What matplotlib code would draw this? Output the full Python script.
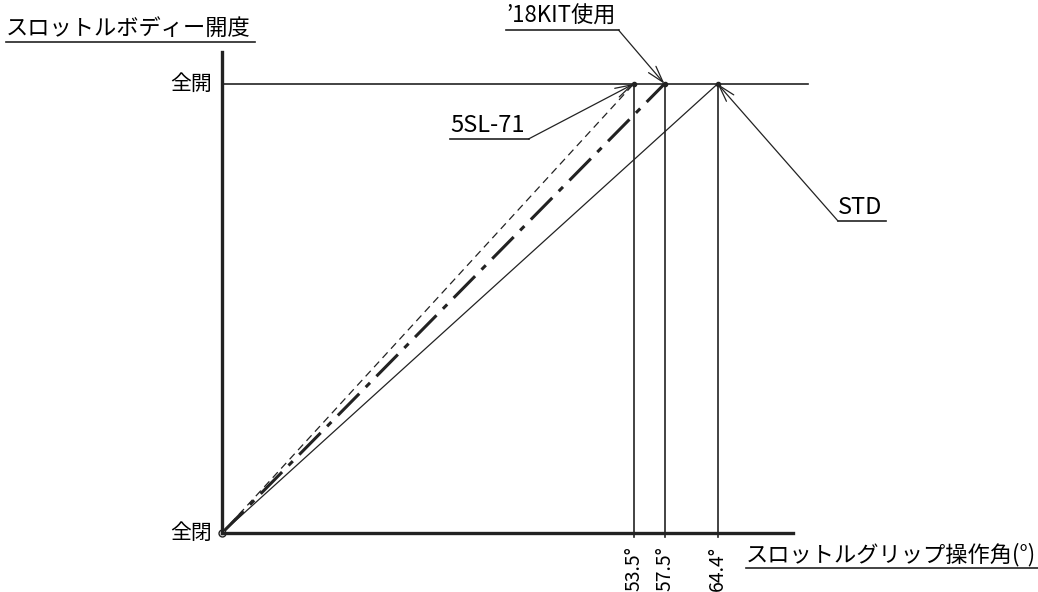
import matplotlib.pyplot as plt
from matplotlib.lines import Line2D

plt.rcParams['font.family'] = ['Noto Sans CJK JP', 'DejaVu Sans']

# データ
series_names = ['5SL-71', '’18KIT使用', 'STD']
full_open_angle = [53.5, 57.5, 64.4]
series_styles = [(0, (6, 4)), (0, (10, 3, 2, 3)), '-']
series_widths = [0.9, 2.2, 0.9]
y_labels = ['全閉', '全開']
x_tick_labels = ['53.5°', '57.5°', '64.4°']

fig = plt.figure(figsize=(10.38, 5.92), dpi=100)
ax = fig.add_axes([0.2139, 0.0997, 0.5501, 0.8125])
ax.set_xlim(0, 74.2)
ax.set_ylim(0, 1.071)

for s in ['top', 'right']:
    ax.spines[s].set_visible(False)
for s in ['left', 'bottom']:
    ax.spines[s].set_linewidth(2.4)
    ax.spines[s].set_color('#222222')

ax.set_xticks([])
ax.set_yticks([])

# 全開ライン
ax.plot([0, 76.1], [1, 1], color='#222222', lw=1.2, clip_on=False)

# 各特性線
for x, ls, lw in zip(full_open_angle, series_styles, series_widths):
    ax.plot([0, x], [0, 1], color='#222222', lw=lw, linestyle=ls, clip_on=False)
    ax.plot([x, x], [-0.01, 1], color='#222222', lw=1.2, clip_on=False)
    ax.plot([x], [1], marker='o', ms=3, color='#222222', clip_on=False)

ax.plot([0], [0], marker='o', ms=5, mfc='white', mec='#222222', mew=1, clip_on=False)

# 軸ラベル (目盛)
ax.text(-1.3, 0, y_labels[0], ha='right', va='center', fontsize=15)
ax.text(-1.3, 1, y_labels[1], ha='right', va='center', fontsize=15)
for x, lab in zip(full_open_angle, x_tick_labels):
    ax.text(x, -0.03, lab, rotation=90, ha='center', va='top', fontsize=14)

fig.canvas.draw()
renderer = fig.canvas.get_renderer()


def underlined(x, y, s, size, ext=4):
    t = fig.text(x / 1038, 1 - y / 592, s, fontsize=size, ha='left', va='bottom')
    bb = t.get_window_extent(renderer)
    yb = bb.y0 - 2
    fig.add_artist(Line2D([bb.x0 / 1038, (bb.x1 + ext) / 1038], [yb / 592, yb / 592],
                          transform=fig.transFigure, color='#222222', lw=1.2))
    return bb.x0, bb.x1 + ext, yb


# 軸タイトル
underlined(6, 40, 'スロットルボディー開度', 16)
underlined(746, 566, 'スロットルグリップ操作角(°)', 16)


def leader(px, py, x_idx):
    tx = full_open_angle[x_idx]
    ax.annotate('', xy=(tx, 1), xycoords='data',
                xytext=(px, py), textcoords='figure pixels',
                arrowprops=dict(arrowstyle='->,head_length=1.2,head_width=0.35',
                                color='#222222', lw=0.9, shrinkA=0, shrinkB=0))


x0, x1, yb = underlined(450, 137, series_names[0], 17)
leader(x1, yb, 0)
x0, x1, yb = underlined(506, 28, series_names[1], 16, ext=3)
leader(x1, yb, 1)
x0, x1, yb = underlined(838, 219, series_names[2], 17)
leader(x0, yb, 2)

fig.savefig('out.png', dpi=100, facecolor='white')
